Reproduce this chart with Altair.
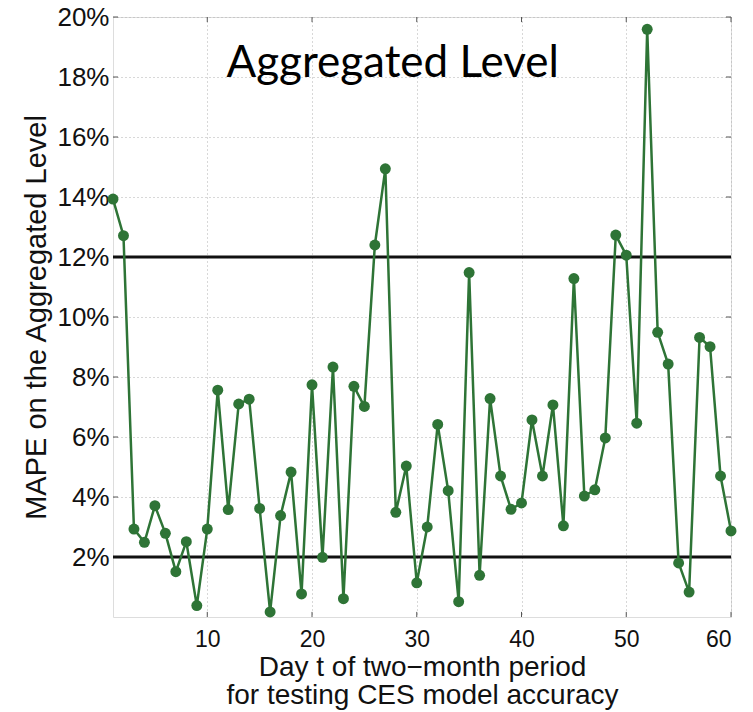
import altair as alt
import pandas as pd

days = list(range(1, 61))
mape = [13.93, 12.71, 2.93, 2.49, 3.71, 2.79, 1.51, 2.51, 0.38, 2.93,
        7.56, 3.58, 7.10, 7.26, 3.62, 0.17, 3.38, 4.83, 0.77, 7.74,
        1.99, 8.33, 0.61, 7.69, 7.02, 12.40, 14.94, 3.49, 5.03, 1.14,
        3.00, 6.42, 4.21, 0.51, 11.48, 1.39, 7.28, 4.70, 3.59, 3.80,
        6.57, 4.70, 7.07, 3.04, 11.28, 4.03, 4.24, 5.97, 12.73, 12.06,
        6.46, 19.59, 9.49, 8.43, 1.80, 0.83, 9.32, 9.01, 4.70, 2.87]
thresholds = [2, 12]
x_ticks = [10, 20, 30, 40, 50, 60]
y_ticks = [2, 4, 6, 8, 10, 12, 14, 16, 18, 20]
note_text = ["Aggregated Level"]
note_x = [27.7]
note_y = [18.0]

GREEN = "#2e7436"
FONT = "Liberation Sans"
X_DOM = [1, 60]
Y_DOM = [0, 20]

df = pd.DataFrame({"day": days, "mape": mape})
thr = pd.DataFrame({"t": thresholds})
xt = pd.DataFrame({"x": x_ticks})
yt = pd.DataFrame({"y": y_ticks})
note = pd.DataFrame({"text": note_text, "x": note_x, "y": note_y})

xscale = alt.Scale(domain=X_DOM, nice=False, zero=False)
yscale = alt.Scale(domain=Y_DOM, nice=False)

x_axis = alt.Axis(
    values=x_ticks, title=["Day t of two\u2212month period", "for testing CES model accuracy"],
    grid=True, gridDash=[1, 3], gridColor="#b0b0b0", gridWidth=1,
    ticks=False, domain=False,
    labelFont=FONT, labelFontSize=23, labelColor="#111", labelPadding=11,
    titleFont=FONT, titleFontSize=28, titleFontWeight="normal", titleColor="#111",
    titlePadding=2, titleLineHeight=28,
)
y_axis = alt.Axis(
    values=y_ticks, labelExpr="datum.value + '%'",
    title="MAPE on the Aggregated Level",
    grid=True, gridDash=[1, 3], gridColor="#b0b0b0", gridWidth=1,
    ticks=False, domain=False,
    labelFont=FONT, labelFontSize=26, labelColor="#111", labelPadding=4,
    titleFont=FONT, titleFontSize=29, titleFontWeight="normal", titleColor="#111",
    titlePadding=5,
)

base = alt.Chart(df)

line = base.mark_line(color=GREEN, strokeWidth=2.5).encode(
    x=alt.X("day:Q", scale=xscale, axis=x_axis),
    y=alt.Y("mape:Q", scale=yscale, axis=y_axis),
)
points = base.mark_circle(color=GREEN, size=120, opacity=1).encode(
    x=alt.X("day:Q", scale=xscale),
    y=alt.Y("mape:Q", scale=yscale),
)
rules = alt.Chart(thr).mark_rule(color="#111", strokeWidth=3).encode(
    y=alt.Y("t:Q", scale=yscale)
)

# inward tick marks on all four sides
tick_len_y = 0.17
tick_len_x = 0.48
xt_bottom = alt.Chart(xt).transform_calculate(y0="0", y1=str(tick_len_y)).mark_rule(color="#555", strokeWidth=1).encode(
    x=alt.X("x:Q", scale=xscale), y=alt.Y("y0:Q", scale=yscale), y2="y1:Q")
xt_top = alt.Chart(xt).transform_calculate(y0="20", y1=str(20 - tick_len_y)).mark_rule(color="#555", strokeWidth=1).encode(
    x=alt.X("x:Q", scale=xscale), y=alt.Y("y0:Q", scale=yscale), y2="y1:Q")
yt_left = alt.Chart(yt).transform_calculate(x0="1", x1=str(1 + tick_len_x)).mark_rule(color="#555", strokeWidth=1).encode(
    y=alt.Y("y:Q", scale=yscale), x=alt.X("x0:Q", scale=xscale), x2="x1:Q")
yt_right = alt.Chart(yt).transform_calculate(x0="60", x1=str(60 - tick_len_x)).mark_rule(color="#555", strokeWidth=1).encode(
    y=alt.Y("y:Q", scale=yscale), x=alt.X("x0:Q", scale=xscale), x2="x1:Q")

label = alt.Chart(note).mark_text(
    font="Lato", fontSize=44, color="#000", align="center", baseline="alphabetic"
).encode(
    x=alt.X("x:Q", scale=xscale), y=alt.Y("y:Q", scale=yscale), text="text:N"
)

chart = alt.layer(
    xt_bottom, xt_top, yt_left, yt_right, rules, line, points, label
).properties(
    width=618, height=600,
    autosize=alt.AutoSizeParams(type="none"),
    padding={"left": 113, "top": 17, "right": 22, "bottom": 95},
).configure_view(
    stroke="#555", strokeWidth=1
).configure(background="white")

chart.save("out.html", embed_options={"renderer": "svg", "actions": False})
